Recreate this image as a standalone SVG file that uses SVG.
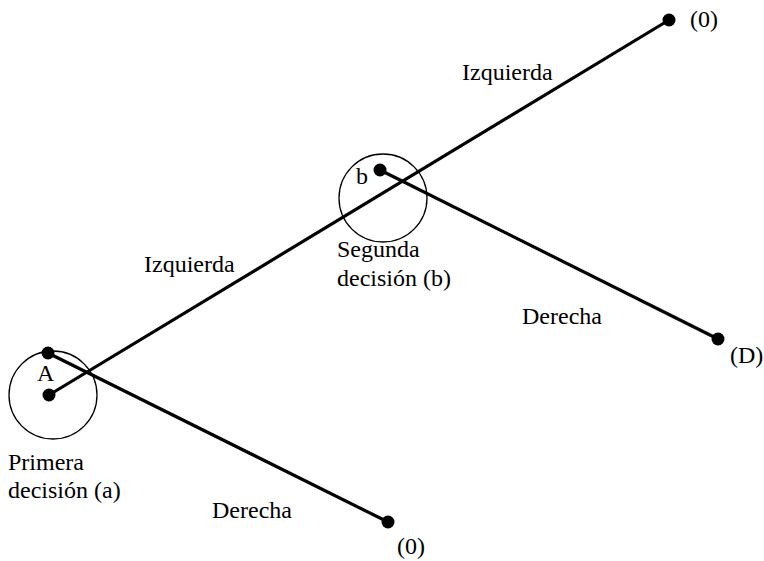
<svg xmlns="http://www.w3.org/2000/svg" width="764" height="561" viewBox="0 0 764 561">
<style>
text{font-family:'Liberation Serif',Tinos,'DejaVu Serif',serif;font-size:24px;fill:#000}
.ln{stroke:#000;stroke-width:3.2;fill:none}
.c{stroke:#000;stroke-width:1.3;fill:none}
.d{fill:#000}
</style>
<rect width="764" height="561" fill="#fff"/>
<g id="connectors">
<line class="ln" x1="49" y1="395" x2="669" y2="20"/>
<line class="ln" x1="48" y1="353" x2="388" y2="522"/>
<line class="ln" x1="380" y1="170" x2="718" y2="339"/>
<text x="462" y="80" font-family="Liberation Serif">Izquierda</text>
<text x="144" y="272" font-family="Liberation Serif">Izquierda</text>
<text x="522" y="324" font-family="Liberation Serif">Derecha</text>
<text x="212" y="518" font-family="Liberation Serif">Derecha</text>
</g>
<g id="nodeA">
<circle class="c" cx="53" cy="395" r="44"/>
<circle class="d" cx="49" cy="395" r="6.5"/>
<circle class="d" cx="48" cy="353" r="6.5"/>
<text x="37" y="381">A</text>
<text x="8" y="470">Primera</text>
<text x="8" y="498">decisión (a)</text>
</g>
<g id="nodeB">
<circle class="c" cx="383" cy="198" r="44"/>
<circle class="d" cx="380" cy="170" r="6.5"/>
<text x="356" y="184">b</text>
<text x="337" y="257">Segunda</text>
<text x="337" y="286">decisión (b)</text>
</g>
<g id="leaf1">
<circle class="d" cx="669" cy="20" r="6.5"/>
<text x="690" y="27">(0)</text>
</g>
<g id="leaf2">
<circle class="d" cx="718" cy="339" r="6.5"/>
<text x="730" y="363">(D)</text>
</g>
<g id="leaf3">
<circle class="d" cx="388" cy="522" r="6.5"/>
<text x="397" y="554">(0)</text>
</g>
</svg>
